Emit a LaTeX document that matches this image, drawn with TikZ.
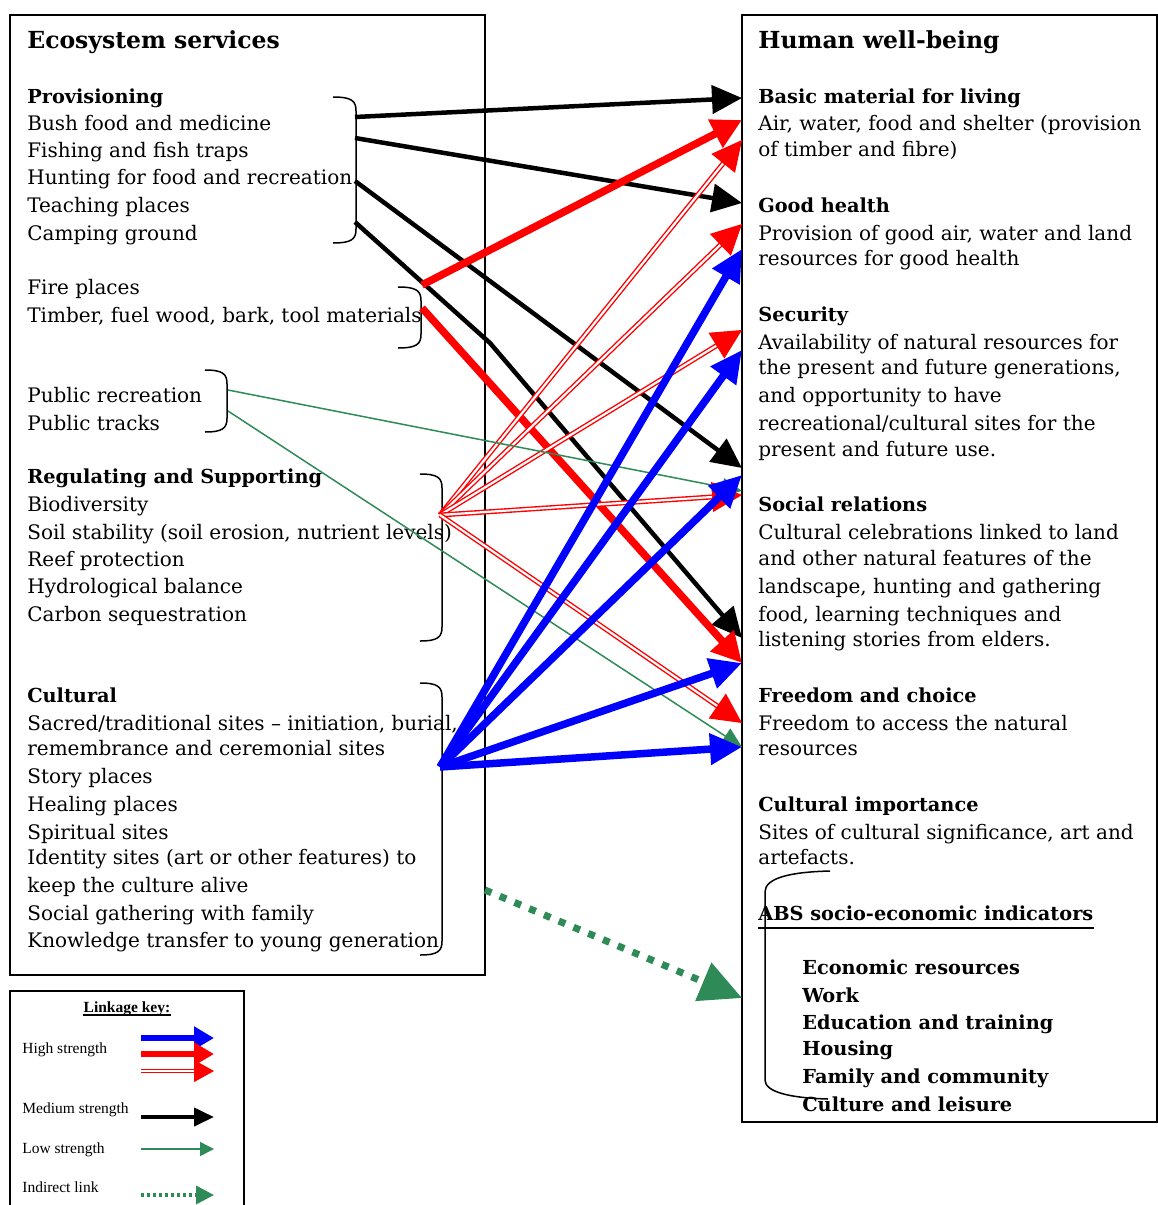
\documentclass[tikz,border=0pt]{standalone}
\usepackage{fontspec}
\setmainfont{DejaVu Serif}
\newfontfamily\keyfont{Liberation Serif}
\usetikzlibrary{arrows.meta, calc}

\definecolor{lowgreen}{RGB}{46,139,87}
\newcommand{\bodyfont}{\fontsize{20}{24}\selectfont}
\newcommand{\boldfont}{\fontsize{19.3}{24}\selectfont\bfseries}
\newcommand{\titlefont}{\fontsize{23.5}{28}\selectfont\bfseries}

% double red link: two thin red lines, tip drawn on its own
\newcommand{\dbllink}[2]{%
    \draw[dbl, shorten >=24pt] (#1) -- (#2);
    \draw[dblhead] ($(#2)!26pt!(#1)$) -- (#2);
}

\begin{document}
\begin{tikzpicture}[
        x=1pt, y=-1pt,
        >=Stealth,
        line width=0.7pt,
        box/.style={draw, line width=1.5pt},
        txt/.style={anchor=base west, inner sep=0pt, font=\bodyfont},
        hd/.style={txt, font=\boldfont},
        brk/.style={line width=1.5pt},
        med/.style={line width=4.5pt, -{Triangle[length=30pt,width=28pt]}},
        hir/.style={red, line width=7.5pt, -{Triangle[length=30pt,width=30pt]}},
        hib/.style={blue, line width=7.5pt, -{Triangle[length=32pt,width=30pt]}},
        dbl/.style={red, line width=1.4pt, double=white, double distance=2.2pt},
        dblhead/.style={red, line width=1pt, -{Triangle[length=30pt,width=30pt]}},
        low/.style={lowgreen, line width=1.5pt, -{Triangle[length=20pt,width=18pt]}},
        ind/.style={lowgreen, line width=7pt, dash pattern=on 7pt off 9pt, -{Triangle[length=42pt,width=40pt]}},
        keytxt/.style={anchor=base west, inner sep=0pt, font=\keyfont\fontsize{15.5}{18}\selectfont},
    ]
    \useasboundingbox (0,0) rectangle (1158,1205);

    %============================================================
    % Boxes
    %============================================================
    \draw[box] (10,15) rectangle (485,975);
    \draw[box] (742,15) rectangle (1157,1122);
    \draw[box] (10,991) rectangle (244,1215);

    %============================================================
    % Ecosystem services (left column)
    %============================================================
    \node[txt, font=\titlefont] (es) at (27,48) {Ecosystem services};

    \node[hd] (prov) at (27,103) {Provisioning};
    \foreach \n/\y/\t in {bush/130/{Bush food and medicine},
                          fish/157/{Fishing and fish traps},
                          hunt/184/{Hunting for food and recreation},
                          teach/212/{Teaching places},
                          camp/240/{Camping ground},
                          firepl/294/{Fire places},
                          timber/322/{Timber, fuel wood, bark, tool materials},
                          pubrec/402/{Public recreation},
                          pubtr/430/{Public tracks}}
        \node[txt] (\n) at (27,\y) {\t};

    \node[hd] (reg) at (27,483) {Regulating and Supporting};
    \foreach \n/\y/\t in {bio/511/{Biodiversity},
                          soil/539/{Soil stability (soil erosion, nutrient levels)},
                          reef/566/{Reef protection},
                          hydro/593/{Hydrological balance},
                          carbon/621/{Carbon sequestration}}
        \node[txt] (\n) at (27,\y) {\t};

    \node[hd] (cult) at (27,702) {Cultural};
    \foreach \n/\y/\t in {sacred/730/{Sacred/traditional sites -- initiation, burial,},
                          remem/755/{remembrance and ceremonial sites},
                          story/783/{Story places},
                          heal/811/{Healing places},
                          spirit/839/{Spiritual sites},
                          ident/864/{Identity sites (art or other features) to},
                          keep/892/{keep the culture alive},
                          social/920/{Social gathering with family},
                          know/947/{Knowledge transfer to young generation}}
        \node[txt] (\n) at (27,\y) {\t};

    % braces
    \foreach \xa/\xb/\ya/\yb in {333/356/97/243, 398/421/287/348, 205/227/370/432,
                                 420/442/474/641, 420/442/683/955}
        \draw[brk] (\xa,\ya) .. controls (\xb-4,\ya) and (\xb,\ya+4) .. (\xb,\ya+14)
            -- (\xb,\yb-14) .. controls (\xb,\yb-4) and (\xb-4,\yb) .. (\xa,\yb);

    %============================================================
    % Human well-being (right column)
    %============================================================
    \node[txt, font=\titlefont] (hwb) at (758,48) {Human well-being};

    \foreach \n/\y/\t in {basic/103/{Basic material for living},
                          health/212/{Good health},
                          sec/321/{Security},
                          socrel/511/{Social relations},
                          free/702/{Freedom and choice},
                          cimp/811/{Cultural importance}}
        \node[hd] (\n) at (758,\y) {\t};

    \foreach \n/\y/\t in {air/130/{Air, water, food and shelter (provision},
                          fibre/156/{of timber and fibre)},
                          goodair/240/{Provision of good air, water and land},
                          goodres/265/{resources for good health},
                          avail/349/{Availability of natural resources for},
                          gens/374/{the present and future generations,},
                          opp/402/{and opportunity to have},
                          recr/430/{recreational/cultural sites for the},
                          use/456/{present and future use.},
                          celeb/539/{Cultural celebrations linked to land},
                          feat/565/{and other natural features of the},
                          scape/593/{landscape, hunting and gathering},
                          learn/621/{food, learning techniques and},
                          elders/646/{listening stories from elders.},
                          access/730/{Freedom to access the natural},
                          resrc/755/{resources},
                          signif/839/{Sites of cultural significance, art and},
                          artef/864/{artefacts.}}
        \node[txt] (\n) at (758,\y) {\t};

    % ABS indicators
    \node[hd] (abs) at (758,920) {ABS socio-economic indicators};
    \draw[line width=2.2pt] ([yshift=-8pt]abs.base west) -- ([yshift=-8pt]abs.base east);
    \foreach \n/\y/\t in {econ/974/{Economic resources},
                          work/1002/{Work},
                          edu/1029/{Education and training},
                          hous/1055/{Housing},
                          fam/1083/{Family and community},
                          leis/1111/{Culture and leisure}}
        \node[hd] (\n) at (802,\y) {\t};
    \draw[brk] (830,871) .. controls (790,872) and (765,878) .. (765,892)
        -- (765,1080) .. controls (765,1092) and (790,1098) .. (828,1099);

    %============================================================
    % Link ends
    %============================================================
    \coordinate (p1) at (355,117);
    \coordinate (p2) at (355,138);
    \coordinate (p3) at (355,181);
    \coordinate (p4) at (355,222);
    \coordinate (bend) at (490,343);
    \coordinate (f1) at (422,285);
    \coordinate (f2) at (422,308);
    \coordinate (g1) at (228,390);
    \coordinate (g2) at (228,411);
    \coordinate (rg) at (440,515);
    \coordinate (cu) at (440,767);
    \coordinate (ind0) at (485,890);

    \foreach \n/\y in {bm1/98, bm2/120, bm3/140, gh1/203, gh2/224, gh3/249,
                       sc1/330, sc2/350, sc3/468, sr0/491, sr1/495, sr2/475,
                       fc1/638, fc2/663, fr1/723, fr2/747, absin/998}
        \coordinate (\n) at (742,\y);

    %============================================================
    % Links
    %============================================================
    % medium strength
    \draw[med] (p1) -- (bm1);
    \draw[med] (p2) -- (gh1);
    \draw[med] (p3) -- (sc3);
    \draw[med] (p4) -- (bend) -- (fc1);

    % high strength, red
    \draw[hir] (f1) -- (bm2);
    \draw[hir] (f2) -- (fc2);
    \foreach \t in {bm3, gh2, sc1, sr1, fr1}{
        \dbllink{rg}{\t}
    }

    % low strength
    \draw[low] (g1) -- (sr0);
    \draw[low] (g2) -- (fr2);

    % high strength, blue
    \foreach \t in {gh3, sc2, sr2, fc2, fr2}
        \draw[hib] (cu) -- (\t);

    % indirect
    \draw[ind] (ind0) -- (absin);

    %============================================================
    % Linkage key
    %============================================================
    \node[anchor=base, inner sep=0pt, font=\keyfont\fontsize{15.5}{18}\selectfont\bfseries] (key) at (127,1012) {Linkage key:};
    \draw[line width=1.2pt] ([yshift=-3pt]key.base west) -- ([yshift=-3pt]key.base east);

    \node[keytxt] (khigh) at (22,1053) {High strength};
    \node[keytxt] (kmed) at (22,1113) {Medium strength};
    \node[keytxt] (klow) at (22,1153) {Low strength};
    \node[keytxt] (kind) at (22,1192) {Indirect link};

    \foreach \n/\y in {hb/1038, hr/1054, hd/1071, md/1117, lo/1149, in/1195}{
        \coordinate (k\n a) at (141,\y);
        \coordinate (k\n b) at (214,\y);
    }
    \draw[blue, line width=5.5pt, -{Triangle[length=20pt,width=22pt]}] (khba) -- (khbb);
    \draw[red, line width=5.5pt, -{Triangle[length=20pt,width=22pt]}] (khra) -- (khrb);
    \draw[red, line width=1.2pt, double=white, double distance=1.6pt, shorten >=18pt] (khda) -- (khdb);
    \draw[red, line width=1pt, -{Triangle[length=20pt,width=22pt]}] ($(khdb)!20pt!(khda)$) -- (khdb);
    \draw[line width=4pt, -{Triangle[length=20pt,width=18pt]}] (kmda) -- (kmdb);
    \draw[lowgreen, line width=1.5pt, -{Triangle[length=14pt,width=14pt]}] (kloa) -- (klob);
    \draw[lowgreen, line width=3.5pt, dash pattern=on 3pt off 3pt, -{Triangle[length=18pt,width=18pt]}] (kina) -- (kinb);

\end{tikzpicture}
\end{document}
